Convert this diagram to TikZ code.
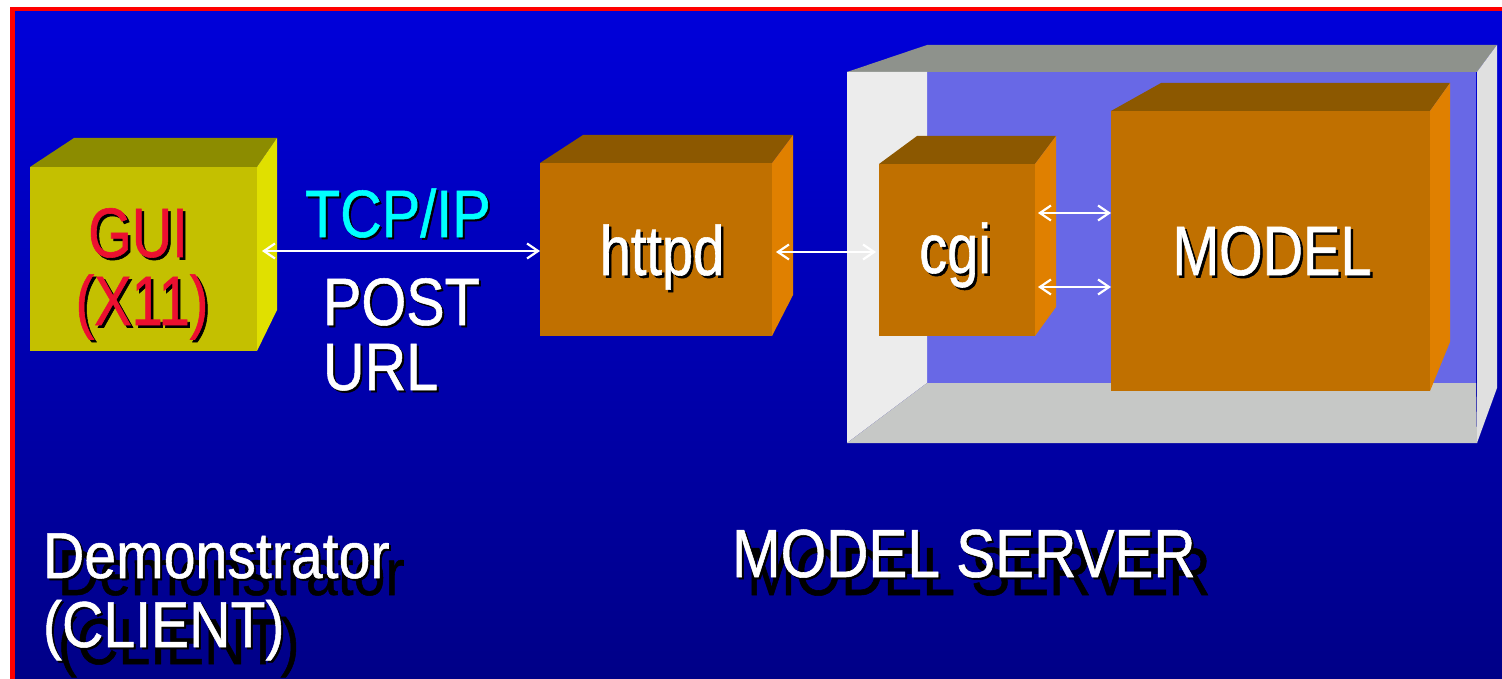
\documentclass[tikz,border=0pt]{standalone}
\usepackage{fontspec}
\setmainfont{Liberation Sans}
\newfontfamily\condA{Liberation Sans}[FakeStretch=0.80,FakeBold=0.8]
\newfontfamily\condB{Liberation Sans}[FakeStretch=0.88,FakeBold=0.8]
\newfontfamily\condC{Liberation Sans}[FakeStretch=0.86,FakeBold=0.8]
\usetikzlibrary{arrows.meta,calc}

\definecolor{bgtop}{RGB}{0,0,218}
\definecolor{bgbot}{RGB}{0,0,135}
\definecolor{framered}{RGB}{255,0,0}
\definecolor{guifront}{RGB}{196,192,0}
\definecolor{guitop}{RGB}{140,140,0}
\definecolor{guiside}{RGB}{224,224,0}
\definecolor{orfront}{RGB}{192,112,0}
\definecolor{ortop}{RGB}{140,88,0}
\definecolor{orside}{RGB}{224,128,0}
\definecolor{srvtop}{RGB}{142,146,140}
\definecolor{srvside}{RGB}{224,224,224}
\definecolor{srvwall}{RGB}{236,236,236}
\definecolor{srvfloor}{RGB}{198,200,198}
\definecolor{srvback}{RGB}{104,104,230}
\definecolor{guired}{RGB}{236,16,48}
\definecolor{tcpcyan}{RGB}{0,255,255}

\tikzset{
  front/.style={rectangle, inner sep=0pt, outer sep=0pt, anchor=north west},
  link/.style={white, line width=2pt,
    {Straight Barb[length=11pt,width=15pt,line width=2.2pt]}-{Straight Barb[length=11pt,width=15pt,line width=2.2pt]}},
  inlink/.style={link, line width=2.6pt},
  txt/.style={inner sep=0pt, outer sep=0pt, anchor=base},
  txtl/.style={txt, anchor=base west},
  drop/.style={text=black},
  boxfont/.style={font=\condA\fontsize{70}{70}\selectfont},
  linkfont/.style={font=\condC\fontsize{67}{67}\selectfont},
  clientfont/.style={font=\condB\fontsize{65}{65}\selectfont},
  serverfont/.style={font=\condC\fontsize{68}{68}\selectfont},
}

\begin{document}
\begin{tikzpicture}[x=1pt,y=-1pt]
\useasboundingbox (0,0) rectangle (1502,679);
\clip (0,0) rectangle (1502,679);

% page and slide background
\fill[white] (0,0) rectangle (1502,679);
\shade[top color=bgtop, bottom color=bgbot] (12,9) rectangle (1502,679);
\draw[framered, line width=4.5pt] (12.3,700) -- (12.3,9.2) -- (1520,9.2);

% ---- server enclosure (open box) ----
\node[front, fill=srvback, minimum width=549pt, minimum height=311pt] (srvback) at (927,72) {};
\fill[srvtop] (847,72) -- (srvback.north west |- 0,45) -- (1497,45) -- (1477,72) -- cycle;
\fill[srvwall] (847,72) -- (srvback.north west) -- (srvback.south west) -- (847,443) -- cycle;
\fill[srvfloor] (srvback.south west) -- (srvback.south east) -- (1477,443) -- (847,443) -- cycle;
\fill[srvside] (1477,72) -- (1497,45) -- (1497,388) -- (1477,443) -- cycle;

% ---- GUI block ----
\node[front, fill=guifront, minimum width=227pt, minimum height=184pt] (gui) at (30,167) {};
\fill[guitop] (gui.north west) -- (74,138) -- (277,138) -- (gui.north east) -- cycle;
\fill[guiside] (gui.north east) -- (277,138) -- (277,310) -- (gui.south east) -- cycle;

% ---- httpd block ----
\node[front, fill=orfront, minimum width=232pt, minimum height=173pt] (httpd) at (540,163) {};
\fill[ortop] (httpd.north west) -- (583,135) -- (793,135) -- (httpd.north east) -- cycle;
\fill[orside] (httpd.north east) -- (793,135) -- (793,295) -- (httpd.south east) -- cycle;

% ---- cgi block ----
\node[front, fill=orfront, minimum width=156pt, minimum height=172pt] (cgi) at (879,164) {};
\fill[ortop] (cgi.north west) -- (917,136) -- (1056,136) -- (cgi.north east) -- cycle;
\fill[orside] (cgi.north east) -- (1056,136) -- (1056,307) -- (cgi.south east) -- cycle;

% ---- MODEL block ----
\node[front, fill=orfront, minimum width=319pt, minimum height=280pt] (model) at (1111,111) {};
\fill[ortop] (model.north west) -- (1161,83) -- (1450,83) -- (model.north east) -- cycle;
\fill[orside] (model.north east) -- (1450,83) -- (1450,342) -- (model.south east) -- cycle;

% ---- connectors ----
\coordinate (guiport) at ($(gui.east)+(5,-8)$);
\draw[link] (guiport) -- (guiport -| httpd.west);
\coordinate (httpdport) at ($(httpd.east)+(4,2.5)$);
\draw[link, shorten >=3pt] (httpdport) -- (httpdport -| cgi.west);
\coordinate (cgiupper) at ($(cgi.east)+(3,-37)$);
\coordinate (cgilower) at ($(cgi.east)+(3,37)$);
\draw[inlink] (cgiupper) -- (cgiupper -| model.west);
\draw[inlink] (cgilower) -- (cgilower -| model.west);

% ---- labels inside blocks ----
\node[txt, boxfont, drop] (guishadow) at (140.5,259.5) {GUI};
\node[txt, boxfont, text=guired] (guitext) at (138,257) {GUI};
\node[txt, boxfont, drop] (xshadow) at (144.5,327.5) {(X11)};
\node[txt, boxfont, text=guired] (xtext) at (142,325) {(X11)};

\node[txt, boxfont, drop] (httpdshadow) at (664.5,277.5) {httpd};
\node[txt, boxfont, text=white] (httpdtext) at (662,275) {httpd};
\node[txt, boxfont, drop] (cgishadow) at (957.5,275.5) {cgi};
\node[txt, boxfont, text=white] (cgitext) at (955,273) {cgi};
\node[txt, boxfont, drop] (modelshadow) at (1274.5,277.5) {MODEL};
\node[txt, boxfont, text=white] (modeltext) at (1272,275) {MODEL};

% ---- link labels ----
\node[txtl, linkfont, drop] (tcpshadow) at (307,239) {TCP/IP};
\node[txtl, linkfont, text=tcpcyan] (tcptext) at (305,237) {TCP/IP};
\node[txtl, linkfont, drop] (postshadow) at (325,327) {POST};
\node[txtl, linkfont, text=white] (posttext) at (323,325) {POST};
\node[txtl, linkfont, drop] (urlshadow) at (325,392) {URL};
\node[txtl, linkfont, text=white] (urltext) at (323,390) {URL};

% ---- captions with deep drop shadows ----
\node[txtl, clientfont, drop] (demoshadow) at (58,595) {Demonstrator};
\node[txtl, clientfont, drop] (clientshadow) at (58,664) {(CLIENT)};
\node[txtl, serverfont, drop] (servershadow) at (747,595) {MODEL SERVER};
\node[txtl, clientfont, drop] (demoedge) at (45,580) {Demonstrator};
\node[txtl, clientfont, drop] (clientedge) at (45,649) {(CLIENT)};
\node[txtl, serverfont, drop] (serveredge) at (734,579) {MODEL SERVER};
\node[txtl, clientfont, text=white] (demotext) at (43,578) {Demonstrator};
\node[txtl, clientfont, text=white] (clienttext) at (43,647) {(CLIENT)};
\node[txtl, serverfont, text=white] (servertext) at (732,577) {MODEL SERVER};
\end{tikzpicture}
\end{document}
